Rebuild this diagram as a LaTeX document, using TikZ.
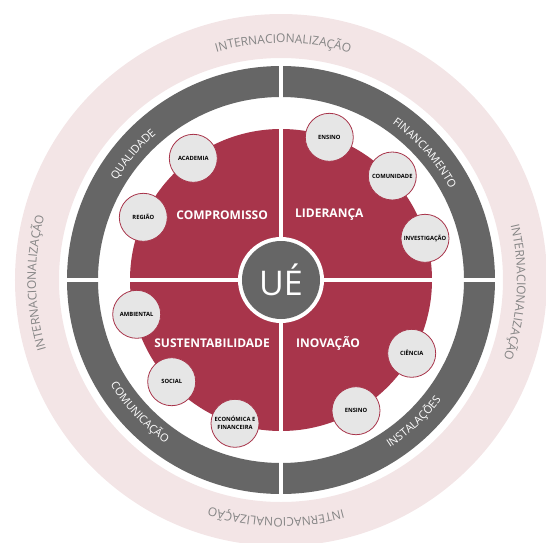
\documentclass[tikz,border=0pt]{standalone}
\usepackage{fontspec}
\setmainfont{Open Sans}
\usetikzlibrary{decorations.text}
\definecolor{pinkring}{HTML}{F3E5E6}
\definecolor{grayring}{HTML}{666666}
\definecolor{redmain}{HTML}{A8354B}
\definecolor{bubblefill}{HTML}{E6E6E6}
\definecolor{pinktext}{HTML}{858585}
\tikzset{
  bubble/.style={circle, fill=bubblefill, draw=redmain, line width=0.8pt,
    minimum size=48pt, inner sep=0pt, align=center, text=black,
    font=\bfseries\fontsize{5.8}{8}\selectfont},
  quadlabel/.style={text=white, inner sep=0pt, font=\bfseries\fontsize{12}{14}\selectfont},
  pinklabel/.style={decorate, decoration={text along path, text align=center,
    text={|\fontsize{12}{12}\selectfont\color{pinktext}|#1}}},
  graylabel/.style={decorate, decoration={text along path, text align=center,
    text={|\fontsize{11}{11}\selectfont\color{white}|#1}}}
}
\begin{document}
\begin{tikzpicture}[x=1pt,y=1pt]
\useasboundingbox (-281pt,-262pt) rectangle (265pt,280pt);
% rings
\fill[pinkring, even odd rule] (0,0) circle[radius=266pt] (0,0) circle[radius=222pt];
\fill[grayring, even odd rule] (0,0) circle[radius=214pt] (0,0) circle[radius=183pt];
\fill[redmain] (0,0) circle[radius=151pt];
\draw[white, line width=4pt] (-216pt,0pt) -- (216pt,0pt);
\draw[white, line width=4pt] (0pt,-216pt) -- (0pt,216pt);
% centre
\fill[white] (0,0) circle[radius=43pt];
\fill[grayring] (0,0) circle[radius=39pt];
\node[text=white, inner sep=0pt, font=\fontsize{34}{34}\selectfont] (ue) at (0pt,0pt) {UÉ};
% pink ring labels
\path[pinklabel={INTERNACIONALIZAÇÃO}] (149.5:237pt) arc[start angle=149.5, end angle=29.5, radius=237pt];
\path[pinklabel={INTERNACIONALIZAÇÃO}] (240.7:245pt) arc[start angle=240.7, end angle=120.7, radius=245pt];
\path[pinklabel={INTERNACIONALIZAÇÃO}] (57:236pt) arc[start angle=57, end angle=-63, radius=236pt];
\path[pinklabel={INTERNACIONALIZAÇÃO}] (328.8:238pt) arc[start angle=328.8, end angle=208.8, radius=238pt];
% gray ring labels
\path[graylabel={QUALIDADE}] (189.7:192pt) arc[start angle=189.7, end angle=89.7, radius=192pt];
\path[graylabel={FINANCIAMENTO}] (91.4:192pt) arc[start angle=91.4, end angle=-8.6, radius=192pt];
\path[graylabel={COMUNICAÇÃO}] (173.1:200pt) arc[start angle=173.1, end angle=273.1, radius=200pt];
\path[graylabel={INSTALAÇÕES}] (263.1:200pt) arc[start angle=263.1, end angle=363.1, radius=200pt];
% quadrant labels
\node[quadlabel, anchor=east] (comp) at (-13pt,65pt) {COMPROMISSO};
\node[quadlabel, anchor=west] (lid) at (14pt,65pt) {LIDERANÇA};
\node[quadlabel, anchor=east] (sust) at (-11pt,-63pt) {SUSTENTABILIDADE};
\node[quadlabel, anchor=west] (inov) at (15pt,-63pt) {INOVAÇÃO};
% bubbles
\node[bubble] (acad) at (-87.7pt,121.7pt) {ACADEMIA};
\node[bubble] (regiao) at (-137.7pt,62.7pt) {REGIÃO};
\node[bubble] (ensinoa) at (48.3pt,142.7pt) {ENSINO};
\node[bubble] (comun) at (111.3pt,104pt) {COMUNIDADE};
\node[bubble] (invest) at (144pt,41.7pt) {INVESTIGAÇÃO};
\node[bubble] (amb) at (-144.3pt,-34.3pt) {AMBIENTAL};
\node[bubble] (social) at (-109.3pt,-101.7pt) {SOCIAL};
\node[bubble] (econ) at (-46pt,-143.3pt) {ECONÓMICA E\\FINANCEIRA};
\node[bubble] (ciencia) at (130.7pt,-73.3pt) {CIÊNCIA};
\node[bubble] (ensinob) at (75pt,-130.7pt) {ENSINO};
\end{tikzpicture}
\end{document}
